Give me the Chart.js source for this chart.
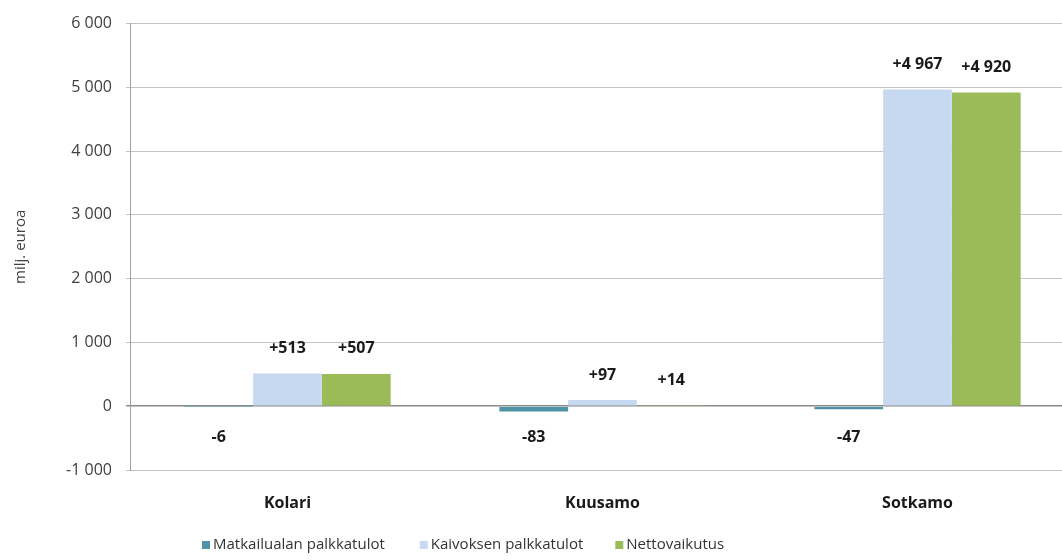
<!DOCTYPE html>
<html><head><meta charset="utf-8">
<script src="https://cdn.jsdelivr.net/npm/chart.js@4"></script>
<style>
html,body{margin:0;padding:0;background:#fff;overflow:hidden;}
#wrap{width:1075px;height:560px;position:relative;}
</style></head>
<body><div id="wrap"><canvas id="c"></canvas></div>
<script>
const categories = ['Kolari', 'Kuusamo', 'Sotkamo'];
const seriesNames = ['Matkailualan palkkatulot', 'Kaivoksen palkkatulot', 'Nettovaikutus'];
const matkailu = [-6, -83, -47];
const kaivos = [513, 97, 4967];
const netto = [507, 14, 4920];
const yMin = -1000, yMax = 6000, yStep = 1000;
const yTitle = 'milj. euroa';
const colors = ['#4f94a6', '#c6d9f1', '#9bbb59'];

const fmt = v => {
  const s = Math.abs(v).toString().replace(/\B(?=(\d{3})+(?!\d))/g, ' ');
  return (v < 0 ? '-' : '') + s;
};
const fmtLabel = v => (v > 0 ? '+' : '') + fmt(v);

const labelPlugin = {
  id: 'vals',
  afterDatasetsDraw(chart) {
    const ctx = chart.ctx;
    const y0 = chart.scales.y.getPixelForValue(0);
    ctx.save();
    ctx.font = 'bold 16px "Open Sans", sans-serif';
    ctx.fillStyle = '#1a1a1a';
    ctx.textAlign = 'center';
    ctx.textBaseline = 'middle';
    chart.data.datasets.forEach((ds, i) => {
      chart.getDatasetMeta(i).data.forEach((bar, j) => {
        const v = ds.data[j];
        const y = v < 0 ? y0 + 31 : bar.y - 25;
        ctx.fillText(fmtLabel(v), bar.x, y);
      });
    });
    // legend
    ctx.font = '15px "Open Sans", sans-serif';
    ctx.textAlign = 'left';
    let x = 202;
    const ly = 545;
    const gaps = [35, 32, 0];
    chart.data.datasets.forEach((ds, i) => {
      ctx.fillStyle = ds.backgroundColor;
      ctx.fillRect(x, ly - 4, 8, 8);
      ctx.fillStyle = '#333333';
      ctx.fillText(ds.label, x + 11, ly);
      x += 11 + ctx.measureText(ds.label).width + gaps[i];
    });
    ctx.restore();
  }
};

new Chart(document.getElementById('c'), {
  type: 'bar',
  data: {
    labels: categories,
    datasets: [
      { label: seriesNames[0], data: matkailu, backgroundColor: colors[0] },
      { label: seriesNames[1], data: kaivos, backgroundColor: colors[1] },
      { label: seriesNames[2], data: netto, backgroundColor: colors[2] }
    ]
  },
  options: {
    responsive: true,
    maintainAspectRatio: false,
    animation: false,
    layout: { padding: { top: 16, bottom: 46, left: 0, right: 0 } },
    plugins: { legend: { display: false }, tooltip: { enabled: false } },
    datasets: { bar: { categoryPercentage: 0.655, barPercentage: 1.0 } },
    scales: {
      x: {
        grid: { display: false },
        border: { display: false },
        ticks: { color: '#1a1a1a', font: { family: '"Open Sans", sans-serif', size: 16, weight: 'bold' }, padding: 16 },
        afterFit(s) { s.height = 44; }
      },
      y: {
        min: yMin, max: yMax,
        ticks: { stepSize: yStep, callback: v => fmt(v), color: '#404040', padding: 14,
                 font: { family: '"Open Sans", sans-serif', size: 16 } },
        grid: { color: c => c.tick && c.tick.value === 0 ? '#8a8a8a' : '#c4c4c4', tickLength: 4, lineWidth: c => c.tick && c.tick.value === 0 ? 1.5 : 1 },
        border: { display: true, color: '#a0a0a0' },
        title: { display: true, text: yTitle, color: '#404040', font: { family: '"Open Sans", sans-serif', size: 15 }, padding: { top: 12, bottom: 10 } },
        afterFit(s) { s.width = 130; }
      }
    }
  },
  plugins: [labelPlugin]
});
</script></body></html>
